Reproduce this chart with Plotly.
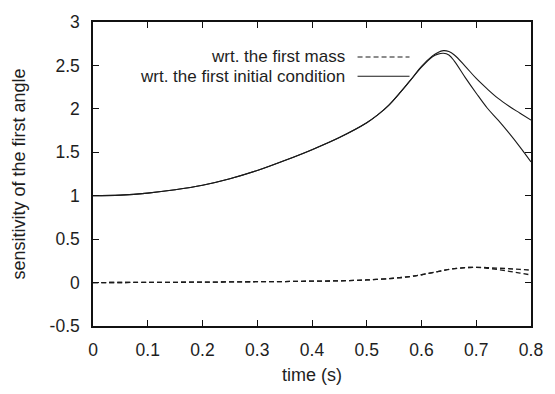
import plotly.graph_objects as go

# ---- data ----
t_solid = [0, 0.05, 0.1, 0.15, 0.2, 0.25, 0.3, 0.35, 0.4, 0.45, 0.5, 0.52, 0.54, 0.56,
           0.58, 0.6, 0.62, 0.63, 0.64, 0.65, 0.66, 0.68, 0.7, 0.72, 0.74, 0.76, 0.78, 0.8]
ic_a = [1.0, 1.007, 1.03, 1.068, 1.12, 1.195, 1.29, 1.405, 1.53, 1.67, 1.84, 1.93, 2.04, 2.18,
        2.33, 2.49, 2.61, 2.65, 2.67, 2.66, 2.62, 2.49, 2.35, 2.23, 2.12, 2.03, 1.95, 1.87]
ic_b = [1.0, 1.007, 1.03, 1.068, 1.12, 1.195, 1.29, 1.405, 1.53, 1.67, 1.84, 1.93, 2.04, 2.18,
        2.33, 2.48, 2.60, 2.63, 2.64, 2.62, 2.55, 2.36, 2.18, 2.01, 1.87, 1.72, 1.56, 1.39]

t_dash = [0, 0.1, 0.2, 0.3, 0.35, 0.4, 0.45, 0.5, 0.55, 0.58, 0.6, 0.62, 0.64, 0.66, 0.68,
          0.7, 0.72, 0.74, 0.76, 0.78, 0.8]
mass_a = [0.0, 0.002, 0.005, 0.01, 0.012, 0.016, 0.02, 0.03, 0.05, 0.07, 0.09, 0.115, 0.14,
          0.16, 0.172, 0.175, 0.172, 0.166, 0.159, 0.151, 0.143]
mass_b = [0.0, 0.002, 0.005, 0.01, 0.012, 0.016, 0.02, 0.03, 0.05, 0.07, 0.09, 0.115, 0.14,
          0.16, 0.172, 0.174, 0.165, 0.15, 0.13, 0.11, 0.087]

x_ticks = [0, 0.1, 0.2, 0.3, 0.4, 0.5, 0.6, 0.7, 0.8]
x_labels = ["0", "0.1", "0.2", "0.3", "0.4", "0.5", "0.6", "0.7", "0.8"]
y_ticks = [-0.5, 0, 0.5, 1, 1.5, 2, 2.5, 3]
y_labels = ["-0.5", "0", "0.5", "1", "1.5", "2", "2.5", "3"]

legend_mass = "wrt. the first mass"
legend_ic = "wrt. the first initial condition"

FONT = "Liberation Sans, Arial, Helvetica, sans-serif"
TXT = "#1e1e1e"

fig = go.Figure()
for y in (mass_a, mass_b):
    fig.add_trace(go.Scatter(x=t_dash, y=y, mode="lines", line_shape="spline",
                             line=dict(color="#1a1a1a", width=1.3, dash="5px,3px"),
                             showlegend=False, hoverinfo="skip"))
for y in (ic_a, ic_b):
    fig.add_trace(go.Scatter(x=t_solid, y=y, mode="lines", line_shape="spline",
                             line=dict(color="#1a1a1a", width=1.1),
                             showlegend=False, hoverinfo="skip"))

axis_common = dict(showgrid=False, zeroline=False, showline=True, linecolor="#111",
                   linewidth=1.5, mirror="ticks", ticks="inside", ticklen=6,
                   tickcolor="#111", tickwidth=1,
                   tickfont=dict(family=FONT, size=17.5, color=TXT))

fig.update_xaxes(range=[0, 0.8], tickvals=x_ticks, ticktext=x_labels, ticklabelstandoff=7,
                 title=dict(text="time (s)", font=dict(family=FONT, size=18, color=TXT), standoff=10),
                 **axis_common)
fig.update_yaxes(range=[-0.5, 3], tickvals=y_ticks, ticktext=y_labels, ticklabelstandoff=8,
                 title=dict(text="sensitivity of the first angle", font=dict(family=FONT, size=18, color=TXT), standoff=19),
                 **axis_common)

# legend drawn gnuplot-style (text right, sample at right)
legend_rows = [(legend_mass, 0.885, "5px,3px"), (legend_ic, 0.8215, "solid")]
for text, yp, dash in legend_rows:
    fig.add_annotation(text=text, xref="paper", yref="paper", x=0.581, y=yp,
                       xanchor="right", yanchor="middle", showarrow=False,
                       font=dict(family=FONT, size=17, color=TXT))
    fig.add_shape(type="line", xref="paper", yref="paper", x0=0.604, x1=0.7226, y0=yp, y1=yp,
                  line=dict(color="#1a1a1a", width=1.1, dash=dash))

fig.update_layout(width=555, height=394, margin=dict(l=93, r=15, t=14, b=58),
                  plot_bgcolor="white", paper_bgcolor="white",
                  font=dict(family=FONT, color=TXT))

fig.write_html("out.html", config={"displayModeBar": False},
               post_script="document.body.style.margin='0';")
